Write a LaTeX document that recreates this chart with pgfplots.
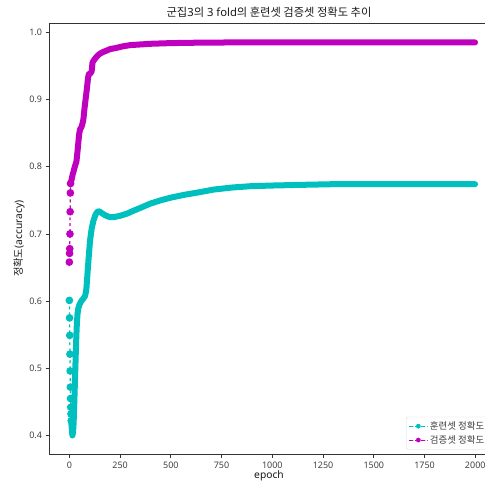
\documentclass[border=0pt]{standalone}
\usepackage{fontspec}
\setmainfont{Noto Sans}
\newfontfamily\kr{Noto Sans CJK KR}
\usepackage{pgfplots}
\pgfplotsset{compat=1.18}
\definecolor{trainc}{rgb}{0,0.75,0.75}
\definecolor{valm}{rgb}{0.75,0,0.75}
\definecolor{txt}{gray}{0.25}

% training accuracy (scaled by 1e8): first epochs drawn as single points
\pgfplotstableread{
epoch acc
0 0.601
1 0.575
2 0.549
3 0.521
4 0.496
5 0.472
6 0.455
7 0.442
8 0.432
9 0.422
}\trainearly
\pgfplotstableread{
epoch acc
9 0.422
12 0.410
15 0.400
18 0.404
21 0.418
24 0.445
27 0.475
30 0.505
33 0.535
36 0.560
40 0.580
44 0.589
50 0.595
61 0.601
70 0.604
78 0.608
84 0.618
88 0.635
94 0.660
102 0.690
110 0.708
119 0.720
128 0.728
136 0.732
143 0.734
150 0.733
160 0.731
175 0.728
190 0.726
201 0.725
220 0.725
250 0.727
283 0.730
320 0.735
360 0.740
398 0.745
450 0.750
500 0.754
563 0.758
640 0.762
711 0.766
800 0.769
892 0.771
1000 0.772
1139 0.773
1300 0.774
1600 0.774
1999 0.774
}\trainmain
% validation accuracy (scaled by 1e8)
\pgfplotstableread{
epoch acc
0 0.658
1 0.671
2 0.678
3 0.700
4 0.733
5 0.761
6 0.775
}\valearly
\pgfplotstableread{
epoch acc
6 0.775
8 0.777
12 0.782
16 0.788
20 0.792
25 0.798
30 0.803
35 0.808
40 0.822
44 0.835
48 0.848
53 0.856
58 0.858
63 0.862
69 0.870
74 0.885
80 0.900
86 0.915
92 0.932
96 0.938
100 0.938
106 0.940
110 0.942
114 0.955
120 0.958
127 0.961
135 0.964
145 0.967
155 0.969
168 0.971
185 0.973
200 0.975
234 0.977
260 0.979
300 0.981
350 0.982
400 0.983
500 0.984
600 0.9845
800 0.985
1000 0.985
1500 0.985
1999 0.985
}\valmain

\begin{document}
\begin{tikzpicture}
\begin{axis}[
  scale only axis,
  width=435.5bp, height=431bp,
  xmin=-100, xmax=2048,
  ymin=0.3717, ymax=1.0139,
  axis x line*=box, axis y line*=left,
  axis line style={line width=0.8bp, black!80},
  xtick={0,250,500,750,1000,1250,1500,1750,2000},
  ytick={0.4,0.5,0.6,0.7,0.8,0.9,1.0},
  xtick pos=left, ytick pos=left,
  tick align=outside,
  major tick length=3.5bp,
  tick style={line width=0.8bp, black!80},
  /pgf/number format/assume math mode=true,
  xticklabel style={/pgf/number format/set thousands separator={}},
  yticklabel style={/pgf/number format/.cd, fixed, fixed zerofill, precision=1},
  ticklabel style={font=\fontsize{9}{10}\selectfont, text=txt},
  scaled ticks=false,
  title={{\kr 군집}3{\kr 의} 3 fold{\kr 의 훈련셋 검증셋 정확도 추이}},
  title style={font=\fontsize{11.3}{13}\selectfont, text=black!90, yshift=-4bp, xshift=2bp},
  xlabel={epoch},
  ylabel={{\kr 정확도}(accuracy)},
  label style={font=\fontsize{10.3}{12}\selectfont, text=black!90},
  xlabel style={yshift=4bp, xshift=2bp},
  ylabel style={yshift=-2bp},
  legend cell align=left,
  legend style={at={(rel axis cs:1,0)}, anchor=south east, xshift=4bp, yshift=5bp,
    font=\kr\fontsize{9.5}{11}\selectfont, text=txt, draw=black!15, rounded corners=2bp,
    row sep=0.5bp, inner sep=2.5bp},
  legend image code/.code={
    \draw[line width=1.1bp, dash pattern=on 3.5bp off 2.5bp] (0,0) -- (18bp,0);
    \path[fill, draw=none, line width=0pt] (9bp,0) circle[radius=2.4bp];
  },
]
\addplot[trainc, line width=6bp, line join=round, line cap=round]
  table[x=epoch, y=acc] {\trainmain};
\addlegendentry{훈련셋 정확도}
\addplot[valm, line width=6bp, line join=round, line cap=round]
  table[x=epoch, y=acc] {\valmain};
\addlegendentry{검증셋 정확도}
\addplot[trainc, dashed, line width=1.2bp, mark=*, mark size=3.2bp, mark options={solid}, forget plot]
  table[x=epoch, y=acc] {\trainearly};
\addplot[valm, dashed, line width=1.2bp, mark=*, mark size=3.2bp, mark options={solid}, forget plot]
  table[x=epoch, y=acc] {\valearly};
\node[anchor=south west, font=\fontsize{9}{10}\selectfont, text=txt, inner sep=1bp]
  at (rel axis cs:0,1) {1e8};
\end{axis}
\pgfresetboundingbox
\path[use as bounding box] ([xshift=-49bp,yshift=-30bp]current axis.south west)
  rectangle ([yshift=23bp]current axis.north east);
\end{tikzpicture}
\end{document}
